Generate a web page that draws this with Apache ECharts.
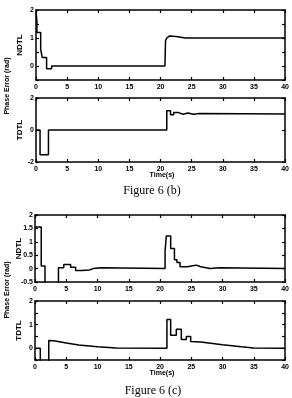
<!DOCTYPE html>
<html>
<head>
    <meta charset="UTF-8">
    <title>Figure 6</title>
    <script src="https://cdn.jsdelivr.net/npm/echarts@6/dist/echarts.min.js"></script>
    <style>
        body { margin: 0; background: #fff; }
    </style>
</head>
<body>
    <div id="main" style="width: 292px; height: 398px;"></div>
    <script>
        // x axis ticks (time)
        var timeTicks = [0, 5, 10, 15, 20, 25, 30, 35, 40];

        // Figure 6 (b) NDTL
        var ndtlBT = [0, 0.15, 0.15, 0.75, 0.75, 1.0, 1.0, 1.7, 1.7, 2.5, 2.5, 20.7, 20.8, 21.0, 21.4, 22.5, 24.0, 40];
        var ndtlBV = [1.95, 1.6, 1.2, 1.2, 0.6, 0.6, 0.3, 0.3, -0.1, -0.1, 0, 0, 0.9, 1.0, 1.07, 1.05, 1.0, 1.0];

        // Figure 6 (b) TDTL
        var tdtlBT = [0, 0.65, 0.65, 2.0, 2.0, 21.0, 21.0, 21.6, 21.6, 22.1, 22.1, 22.8, 22.8, 23.6, 23.6, 24.4, 24.4, 25.3, 25.3, 26.2, 26.2, 40];
        var tdtlBV = [0, 0, -1.55, -1.55, 0, 0, 1.2, 1.2, 0.95, 0.95, 1.1, 1.1, 0.98, 0.98, 1.06, 1.06, 0.98, 0.98, 1.03, 1.03, 1.0, 1.0];

        // Figure 6 (c) NDTL
        var ndtlCT = [0, 1.0, 1.0, 1.6, 1.6, 3.75, 3.75, 4.6, 4.6, 5.7, 5.7, 6.5, 6.5, 7.5, 7.5, 8.7, 8.7, 9.3, 9.3, 10.5, 10.5,
            20.8, 20.8, 21.0, 21.0, 21.7, 21.7, 22.3, 22.3, 22.7, 22.7, 23.2, 23.2, 24.4, 24.4, 25.0, 25.0, 25.8, 25.8, 26.5, 26.5,
            28.0, 28.0, 29.5, 29.5, 40];
        var ndtlCV = [1.55, 1.55, 0.1, 0.1, -0.8, -0.8, 0.03, 0.03, 0.15, 0.15, 0.05, 0.05, -0.07, -0.07, -0.05, -0.05, 0, 0, 0.03, 0.03, 0,
            0, 0.65, 0.65, 1.22, 1.22, 0.75, 0.75, 0.33, 0.33, 0.23, 0.23, 0.07, 0.07, 0.1, 0.1, 0.13, 0.13, 0.07, 0.07, 0,
            0, 0.03, 0.03, 0, 0];

        // Figure 6 (c) TDTL
        var tdtlCT = [0, 0.85, 0.85, 2.2, 2.2, 3.0, 5.0, 7.0, 10.0, 13.0, 21.1, 21.1, 21.7, 21.7, 22.6, 22.6, 23.4, 23.4, 24.2, 24.2,
            24.9, 24.9, 26.5, 30.0, 33.0, 35.0, 40];
        var tdtlCV = [0, 0, -0.8, -0.8, 0.33, 0.32, 0.22, 0.14, 0.06, 0.01, 0, 1.22, 1.22, 0.55, 0.55, 0.8, 0.8, 0.37, 0.37, 0.5,
            0.5, 0.28, 0.26, 0.15, 0.06, 0.01, 0];

        function pairs(t, v) {
            return t.map(function (x, i) { return [x, v[i]]; });
        }

        var myChart = echarts.init(document.getElementById('main'));

        var tickFont = { fontFamily: 'Liberation Sans', fontWeight: 'bold', fontSize: 7, color: '#000' };
        // 坐标轴线当作边框
        var boxLine = { show: true, onZero: false, lineStyle: { color: '#000', width: 1.5 } };
        var tickStyle = { show: true, inside: true, length: 3, lineStyle: { color: '#000', width: 1.2 } };

        // 四个子图的位置
        var grids = [
            { left: 36, top: 10, right: 5, height: 70 },
            { left: 36, top: 98, right: 5, height: 64 },
            { left: 35, top: 215, right: 5, height: 67 },
            { left: 35, top: 301, right: 5, height: 59 }
        ];
        var yCfg = [
            { name: 'NDTL', min: -0.5, max: 2, interval: 0.5, labels: [0, 1, 2] },
            { name: 'TDTL', min: -2, max: 2, interval: 2, labels: [-2, 0, 2] },
            { name: 'NDTL', min: -0.5, max: 2, interval: 0.5, labels: [-0.5, 0, 0.5, 1, 1.5, 2] },
            { name: 'TDTL', min: -0.5, max: 2, interval: 0.5, labels: [0, 1, 2] }
        ];
        var data = [pairs(ndtlBT, ndtlBV), pairs(tdtlBT, tdtlBV), pairs(ndtlCT, ndtlCV), pairs(tdtlCT, tdtlCV)];

        var xAxes = [], yAxes = [], series = [];
        grids.forEach(function (g, i) {
            g.show = false;
            g.containLabel = false;
            xAxes.push({
                type: 'value', gridIndex: i, min: 0, max: 40, interval: 5, position: 'bottom',
                axisLine: boxLine, splitLine: { show: false }, axisTick: tickStyle,
                axisLabel: Object.assign({ margin: 4, customValues: timeTicks }, tickFont)
            });
            xAxes.push({
                type: 'value', gridIndex: i, min: 0, max: 40, interval: 5, position: 'top',
                axisLine: boxLine, splitLine: { show: false }, axisTick: tickStyle,
                axisLabel: { show: false }
            });
            var c = yCfg[i];
            yAxes.push({
                type: 'value', gridIndex: i, min: c.min, max: c.max, interval: c.interval, position: 'left',
                name: c.name, nameLocation: 'middle', nameGap: 12, nameRotate: 90, nameMoveOverlap: false,
                nameTextStyle: { fontFamily: 'Liberation Sans', fontWeight: 'bold', fontSize: 8, color: '#000' },
                axisLine: boxLine, splitLine: { show: false }, axisTick: tickStyle,
                axisLabel: Object.assign({ margin: 2, customValues: c.labels }, tickFont)
            });
            yAxes.push({
                type: 'value', gridIndex: i, min: c.min, max: c.max, interval: c.interval, position: 'right',
                axisLine: boxLine, splitLine: { show: false }, axisTick: tickStyle,
                axisLabel: { show: false }
            });
            series.push({
                type: 'line', xAxisIndex: i * 2, yAxisIndex: i * 2,
                data: data[i], symbol: 'none', clip: true,
                lineStyle: { color: '#000', width: 1.5 }
            });
        });

        var labelFont = { fontFamily: 'Liberation Sans', fontWeight: 'bold', fontSize: 7, fill: '#000' };
        var capFont = { fontFamily: 'Liberation Serif', fontSize: 12, fill: '#000' };

        var option = {
            backgroundColor: '#fff',
            animation: false,
            grid: grids,
            xAxis: xAxes,
            yAxis: yAxes,
            series: series,
            graphic: [
                { type: 'text', x: 7, y: 86, rotation: Math.PI / 2, style: Object.assign({ text: 'Phase Error (rad)', align: 'center', verticalAlign: 'middle' }, labelFont) },
                { type: 'text', x: 7, y: 290, rotation: Math.PI / 2, style: Object.assign({ text: 'Phase Error (rad)', align: 'center', verticalAlign: 'middle' }, labelFont) },
                { type: 'text', x: 162, y: 175, style: Object.assign({ text: 'Time(s)', align: 'center', verticalAlign: 'middle' }, labelFont) },
                { type: 'text', x: 162, y: 373, style: Object.assign({ text: 'Time(s)', align: 'center', verticalAlign: 'middle' }, labelFont) },
                { type: 'text', x: 152, y: 191, style: Object.assign({ text: 'Figure 6 (b)', align: 'center', verticalAlign: 'middle' }, capFont) },
                { type: 'text', x: 153, y: 391, style: Object.assign({ text: 'Figure 6 (c)', align: 'center', verticalAlign: 'middle' }, capFont) }
            ]
        };
        myChart.setOption(option);
    </script>
</body>
</html>
